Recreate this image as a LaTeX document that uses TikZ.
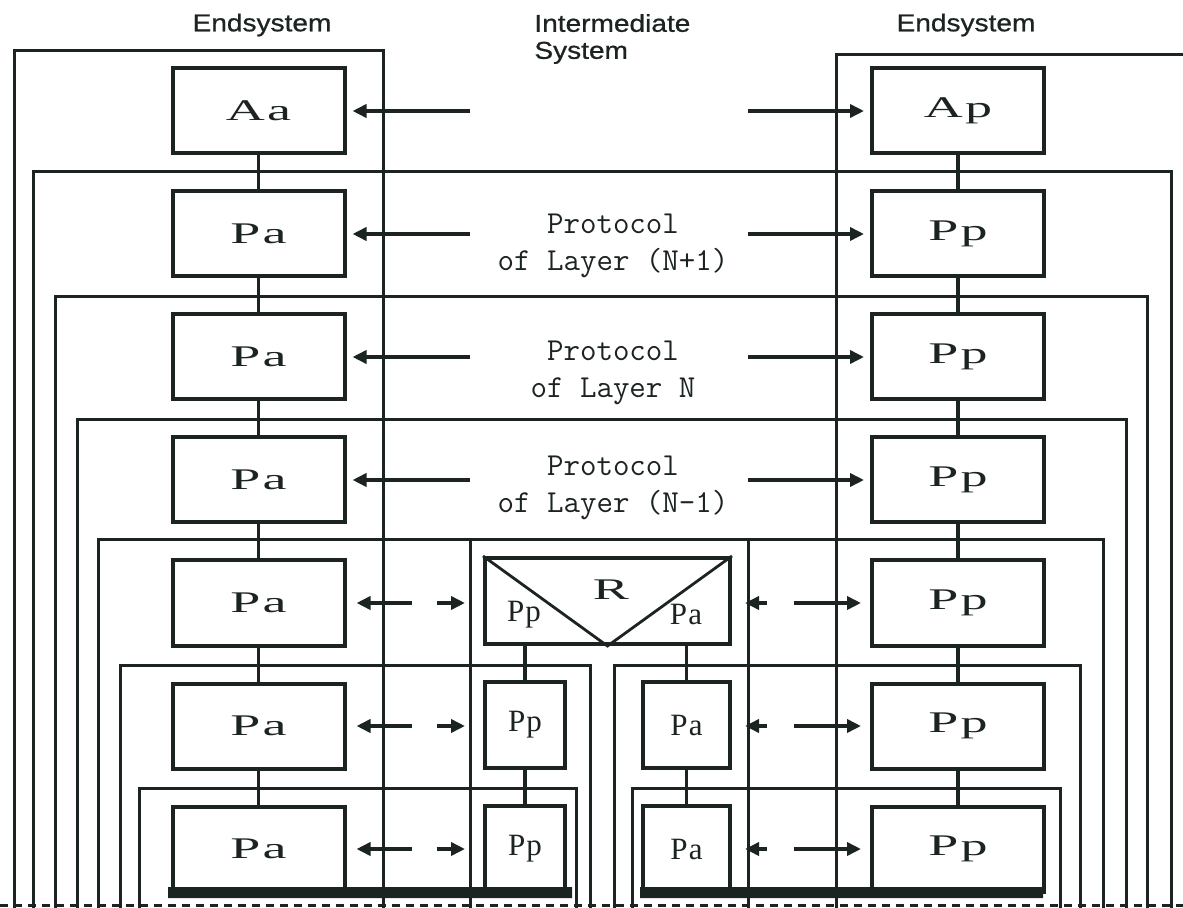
\documentclass[tikz,border=0pt]{standalone}
\usepackage{fontspec}
\setmainfont{Liberation Serif}
\setsansfont{Liberation Sans}[FakeStretch=1.15,FakeBold=0.8]
\newfontfamily\boxfont{Liberation Serif}[FakeStretch=1.8,LetterSpace=8]
\usetikzlibrary{arrows.meta,positioning}
\definecolor{ink}{HTML}{1C2422}

\begin{document}
\begin{tikzpicture}[x=0.5pt,y=-0.5pt, node distance=17pt, every node/.style={text=ink},
  lay/.style={draw=ink,line width=2pt,fill=white,minimum width=86pt,minimum height=42.5pt,inner sep=0pt,font=\boxfont\fontsize{15}{18}\selectfont},
  ibox/.style={draw=ink,line width=2pt,fill=white,minimum height=43pt,inner sep=0pt,font=\addfontfeature{LetterSpace=4}\fontsize{15.5}{18}\selectfont},
  ilabel/.style={inner sep=0pt,font=\addfontfeature{LetterSpace=4}\fontsize{15.5}{18}\selectfont},
  frame/.style={draw=ink,line width=1.5pt},
  link/.style={draw=ink,line width=1.8pt},
  arr/.style={-{Triangle[length=7pt,width=6.5pt]},draw=ink,line width=1.8pt,shorten >=3pt},
  darr/.style={{Triangle[length=7pt,width=6.5pt]}-{Triangle[length=7pt,width=6.5pt]},draw=ink,line width=1.8pt},
  head/.style={font=\sffamily\fontsize{12.2}{13.5}\selectfont,inner sep=0pt},
  proto/.style={font=\ttfamily\addfontfeature{FakeBold=2}\fontsize{16}{18.5}\selectfont,align=center,inner sep=0pt}]
\useasboundingbox (0,0) rectangle (1183,908);
\clip (0,0) rectangle (1183,908);

\node[head] (lhead) at (262,25) {Endsystem};
\node[head] (rhead) at (966,25) {Endsystem};
\node[head,align=left,anchor=west] (ihead) at (534,39) {Intermediate\\System};

\draw[frame] (14,908) |- (383,51) -- (383,908);
\draw[frame] (836,908) |- (1190,55) -- (1190,908);
\foreach \y/\l/\r in {172/33/1171,297/55/1147,420/77/1126,540/98/1103}
  \draw[frame] (\l,908) |- (\r,\y) -- (\r,908);
\draw[frame] (470,908) -- (470,540) (748,908) -- (748,540);
\draw[frame] (120,908) |- (590,665) -- (590,908);
\draw[frame] (614,908) |- (1080,665) -- (1080,908);
\draw[frame] (139,908) |- (576,788) -- (576,908);
\draw[frame] (632,908) |- (1060,788) -- (1060,908);
\draw[frame,dash pattern=on 4pt off 3pt] (0,905) -- (1183,905);

\node[lay] (a1) at (258.5,111) {Aa};
\node[lay,below=of a1] (a2) {Pa};
\node[lay,below=of a2] (a3) {Pa};
\node[lay,below=of a3] (a4) {Pa};
\node[lay,below=of a4] (a5) {Pa};
\node[lay,below=of a5] (a6) {Pa};
\node[lay,below=of a6] (a7) {Pa};
\node[lay] (b1) at (958,111) {Ap};
\node[lay,below=of b1] (b2) {Pp};
\node[lay,below=of b2] (b3) {Pp};
\node[lay,below=of b3] (b4) {Pp};
\node[lay,below=of b4] (b5) {Pp};
\node[lay,below=of b5] (b6) {Pp};
\node[lay,below=of b6] (b7) {Pp};
\foreach \i/\j in {1/2,2/3,3/4,4/5,5/6,6/7}
  \draw[link] (a\i) -- (a\j) (b\i) -- (b\j);

\node[ibox,minimum width=122.5pt] (r) at (607.5,601) {};
\draw[link,line width=1.4pt] (r.north west) -- (r.south) -- (r.north east);
\node[lay,draw=none,fill=none,minimum size=0pt] (rname) at (611,590) {R};
\node[ilabel] (rpp) at (524,615) {Pp};
\node[ilabel] (rpa) at (686,615) {Pa};
\node[ibox,minimum width=40pt,below right=17pt and 0pt of r.south west] (ip1) {Pp};
\node[ibox,minimum width=40pt,below=of ip1] (ip2) {Pp};
\node[ibox,minimum width=43.5pt,below left=17pt and 0pt of r.south east] (ia1) {Pa};
\node[ibox,minimum width=43.5pt,below=of ia1] (ia2) {Pa};
\draw[link] (r.south -| ip1) -- (ip1) (ip1) -- (ip2);
\draw[link] (r.south -| ia1) -- (ia1) (ia1) -- (ia2);
\fill[ink] (168,887) rectangle (572,898) (640,887) rectangle (1043,898);

\coordinate (isl) at (470,0);
\coordinate (isr) at (748,0);
\node[proto] (p2) at (613,246) {Protocol\\of Layer (N+1)};
\node[proto] (p3) at (613,373) {Protocol\\of Layer N};
\node[proto] (p4) at (613,488) {Protocol\\of Layer (N-1)};
\foreach \i in {1,...,4}{
  \draw[arr] (a\i -| isl) -- (a\i);
  \draw[arr] (b\i -| isr) -- (b\i);
}
\foreach \i in {5,6,7}{
  \draw[darr,shorten <=5pt,shorten >=2.5pt,dash pattern=on 21pt off 12.5pt on 40pt] (a\i) -- (a\i -| isl);
  \draw[darr,shorten <=-1.5pt,shorten >=4.5pt,dash pattern=on 4.5pt off 13.5pt on 40pt] (b\i -| isr) -- (b\i);
}
\end{tikzpicture}
\end{document}
